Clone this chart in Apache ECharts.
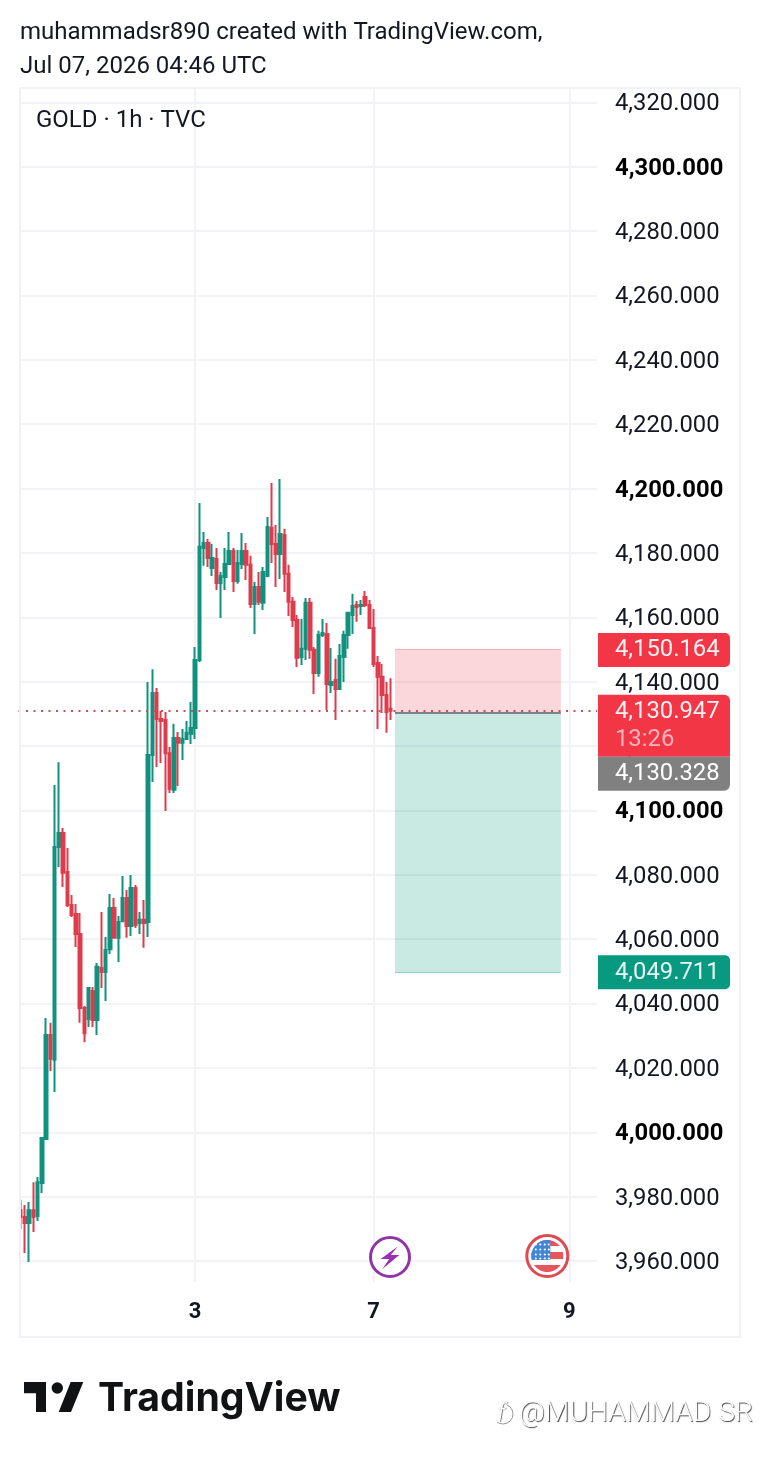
<!DOCTYPE html>
<html>
<head>
<meta charset="utf-8">
<title>GOLD 1h</title>
<style>html,body{margin:0;padding:0;background:#fff}#chart{width:760px;height:1458px}</style>
<script src="https://cdn.jsdelivr.net/npm/echarts@6/dist/echarts.min.js"></script>
</head>
<body>
<div id="chart"></div>
<script>
// Hourly GOLD candles, oldest first
const opens = [3975.8,3973.7,3971.8,3975.8,3974.0,3984.2,3997.9,4030.2,4022.5,4088.6,4093.0,4080.9,4070.6,4067.8,4061.6,4038.6,4035.2,4043.9,4034.9,4051.0,4049.8,4056.9,4069.7,4060.4,4065.6,4072.8,4064.1,4075.9,4065.0,4066.0,4065.3,4117.2,4136.5,4128.4,4128.1,4117.8,4106.4,4122.5,4121.0,4122.2,4123.8,4125.6,4146.7,4181.5,4183.1,4175.3,4178.1,4170.7,4172.5,4176.6,4180.6,4171.3,4176.6,4180.6,4176.3,4164.1,4169.4,4164.5,4172.8,4187.8,4182.8,4179.7,4185.6,4173.5,4164.8,4159.2,4147.7,4150.2,4164.5,4149.9,4142.7,4154.5,4154.8,4139.0,4140.5,4137.7,4147.7,4154.5,4160.7,4163.8,4163.5,4166.3,4163.8,4156.7,4145.8,4141.5,4135.9,4131.6];
const closes = [3973.7,3971.8,3975.8,3973.7,3984.5,3998.2,4030.2,4022.8,4088.6,4093.0,4080.6,4070.6,4067.5,4061.6,4038.6,4030.8,4044.8,4034.9,4051.4,4049.8,4056.6,4069.7,4060.4,4065.3,4072.8,4064.1,4075.9,4064.4,4066.0,4065.0,4117.2,4136.5,4128.4,4127.8,4117.8,4106.7,4122.5,4121.0,4122.2,4124.1,4125.6,4146.7,4181.9,4183.1,4178.4,4178.4,4170.7,4172.8,4176.6,4180.6,4171.3,4176.9,4180.6,4176.3,4164.1,4169.4,4164.8,4174.1,4188.1,4182.8,4179.7,4185.9,4173.5,4164.8,4159.2,4147.4,4150.2,4164.5,4149.9,4142.7,4154.5,4155.1,4139.3,4139.9,4137.7,4148.0,4154.5,4161.4,4163.5,4163.2,4163.8,4163.8,4156.7,4145.5,4141.5,4135.9,4130.6,4130.947];
const lows = [3969.9,3962.5,3959.7,3969.0,3972.4,3981.1,3997.9,4019.0,4012.5,4082.4,4076.2,4070.0,4066.9,4057.6,4034.0,4028.0,4032.7,4032.7,4030.2,4044.8,4040.8,4055.4,4060.1,4052.9,4065.6,4060.4,4061.0,4063.5,4061.6,4057.3,4060.7,4108.8,4113.5,4114.7,4099.8,4105.4,4105.4,4107.6,4115.7,4122.2,4120.6,4122.2,4146.1,4176.0,4175.6,4172.8,4168.5,4159.8,4168.5,4176.3,4167.9,4170.4,4175.0,4171.6,4162.9,4154.8,4163.8,4162.3,4172.5,4176.9,4169.4,4171.9,4167.9,4160.4,4157.0,4144.6,4145.2,4146.7,4147.1,4136.2,4141.5,4153.9,4131.2,4136.5,4128.1,4137.4,4139.9,4150.2,4154.8,4158.6,4160.7,4163.2,4156.7,4144.6,4125.3,4130.3,4124.1,4128.1];
const highs = [3979.0,3977.4,3978.3,3984.5,3986.1,3998.5,4035.5,4034.0,4107.9,4115.0,4094.5,4088.3,4073.7,4070.9,4068.1,4039.2,4045.1,4045.1,4052.6,4068.4,4060.7,4074.0,4072.8,4067.2,4079.6,4075.3,4079.9,4076.8,4068.4,4072.2,4139.9,4143.9,4138.0,4130.9,4130.6,4119.7,4126.9,4124.4,4125.3,4127.8,4133.7,4150.8,4195.5,4186.5,4184.3,4182.8,4181.5,4174.1,4181.5,4186.5,4181.5,4180.9,4186.2,4183.1,4179.1,4171.0,4174.1,4175.6,4191.2,4201.7,4188.7,4203.0,4187.5,4176.3,4166.3,4160.7,4159.5,4166.0,4166.0,4150.8,4155.8,4159.5,4158.2,4150.5,4147.1,4151.7,4155.8,4161.7,4167.3,4165.1,4165.4,4168.2,4165.4,4162.6,4148.0,4145.5,4139.9,4141.1];

// Price scale ticks; round hundreds are emphasised
const priceTicks = [3960,3980,4000,4020,4040,4060,4080,4100,4120,4140,4160,4180,4200,4220,4240,4260,4280,4300,4320];
const boldTicks = [4000,4100,4200,4300];

// Date ticks on the time scale: bar slot -> day of month
const dateTicks = {41:'3', 83:'7', 129:'9'};
const slotCount = 136;

// Short position drawing
const stopPrice = 4150.164;
const entryPrice = 4130.328;
const targetPrice = 4049.711;
const lastPrice = 4130.947;
const countdown = '13:26';
const positionStartSlot = 88;
const positionEndSlot = 127;

const UP = '#11917F', DOWN = '#DE3C4D';
const INK = '#131722';
const BRAND = '#111214';
const GRID = '#F2F3F6';
const FONT = 'Roboto';

const categories = Array.from({length: slotCount}, (_, i) => dateTicks[i] || '');
const candles = opens.map((o, i) => [o, closes[i], lows[i], highs[i]]);
const fmt = v => v.toLocaleString('en-US', {minimumFractionDigits: 3, maximumFractionDigits: 3});

const chart = echarts.init(document.getElementById('chart'));
chart.setOption({
  animation: false,
  backgroundColor: '#fff',
  grid: {left: 18.5, top: 88, width: 578.5, height: 1194},
  xAxis: {
    type: 'category',
    data: categories,
    boundaryGap: true,
    axisLine: {show: false},
    axisTick: {show: false},
    splitLine: {show: false},
    axisLabel: {
      interval: i => dateTicks[i] !== undefined,
      margin: 19,
      fontFamily: FONT, fontSize: 22, fontWeight: 'bold', color: INK
    }
  },
  yAxis: {
    type: 'value',
    position: 'right',
    min: 3953.47,
    max: 4324.47,
    axisLine: {show: false},
    axisTick: {show: false, customValues: priceTicks},
    splitLine: {show: true, lineStyle: {color: GRID, width: 2}},
    axisLabel: {
      customValues: priceTicks,
      margin: 18,
      formatter: v => (boldTicks.includes(v) ? '{b|' : '{n|') + fmt(v) + '}',
      rich: {
        n: {fontFamily: FONT, fontSize: 23.8, color: INK, padding: [4, 0, 0, 0]},
        b: {fontFamily: FONT, fontSize: 23.8, fontWeight: 'bold', color: '#000', padding: [4, 0, 0, 0]}
      }
    }
  },
  series: [
    {
      // Carries the vertical date lines underneath the candles
      type: 'line',
      z: 1,
      data: [],
      silent: true,
      markLine: {
        z: 0, silent: true, symbol: 'none', animation: false,
        label: {show: false},
        lineStyle: {color: GRID, width: 2, type: 'solid'},
        data: Object.keys(dateTicks).map(k => ({xAxis: +k}))
      }
    },
    {
      type: 'candlestick',
      z: 2,
      barWidth: 3,
      data: candles,
      itemStyle: {color: UP, color0: DOWN, borderColor: UP, borderColor0: DOWN, borderWidth: 2},
      markArea: {
        silent: true,
        data: [
          [{xAxis: positionStartSlot, yAxis: stopPrice, itemStyle: {color: 'rgba(242,54,69,0.2)'}},
           {xAxis: positionEndSlot, yAxis: entryPrice}],
          [{xAxis: positionStartSlot, yAxis: entryPrice, itemStyle: {color: 'rgba(8,153,129,0.22)'}},
           {xAxis: positionEndSlot, yAxis: targetPrice}]
        ]
      },
      markLine: {
        silent: true, symbol: 'none', animation: false,
        label: {show: false},
        data: [
          {yAxis: lastPrice, lineStyle: {color: '#C8505C', width: 2, type: [2, 5.5]}},
          [{xAxis: positionStartSlot, yAxis: entryPrice, lineStyle: {color: '#7F8288', width: 2, type: 'solid'}},
           {xAxis: positionEndSlot, yAxis: entryPrice}],
          [{xAxis: positionStartSlot, yAxis: stopPrice, lineStyle: {color: 'rgba(242,54,69,0.25)', width: 1, type: 'solid'}},
           {xAxis: positionEndSlot, yAxis: stopPrice}],
          [{xAxis: positionStartSlot, yAxis: targetPrice, lineStyle: {color: 'rgba(8,153,129,0.4)', width: 1, type: 'solid'}},
           {xAxis: positionEndSlot, yAxis: targetPrice}]
        ]
      }
    }
  ]
});

// Price tags on the scale, placed from the axis conversion
const yOf = v => chart.convertToPixel({yAxisIndex: 0}, v);
const tagText = (text, y, fill) => ({
  type: 'text', z: 102, x: 615, y,
  style: {text, fill, font: '23.8px ' + FONT, textVerticalAlign: 'middle', textAlign: 'left'}
});
const tagBox = (top, h, fill, r) => ({
  type: 'rect', z: 101,
  shape: {x: 598, y: top, width: 132, height: h, r},
  style: {fill}
});
const stopY = yOf(stopPrice), lastY = yOf(lastPrice), targetY = yOf(targetPrice);
const lastTop = lastY - 16;
const entryTop = lastTop + 62;

// Round flag badge: clip axis-aligned blocks to the disc
const discBlock = (cx, cy, r, x0, x1, y0, y1, fill) => {
  const points = [];
  for (let a = 0; a < 72; a++) {
    const t = a * Math.PI / 36;
    const px = Math.max(x0, Math.min(x1, r * Math.cos(t)));
    const py = Math.max(y0, Math.min(y1, r * Math.sin(t)));
    points.push([cx + px, cy + py]);
  }
  return {type: 'polygon', z: 51, shape: {points}, style: {fill}};
};
const flagX = 547.3, flagY = 1256;
const FLAG_RED = '#E5555A', FLAG_BLUE = '#3F86D6';
const flag = [
  {type: 'circle', z: 50, shape: {cx: flagX, cy: flagY, r: 20.5}, style: {fill: '#fff', stroke: '#DF4A52', lineWidth: 3}},
  discBlock(flagX, flagY, 16, -16, 16, -16, -10, FLAG_RED),
  discBlock(flagX, flagY, 16, -16, 16, -4, 3, FLAG_RED),
  discBlock(flagX, flagY, 16, -16, 16, 9, 16, FLAG_RED),
  discBlock(flagX, flagY, 16, -16, 3, -16, 4, FLAG_BLUE)
];
[-11, -6, -1, 3].forEach(dy => [-11, -6.5, -2, 2].forEach(dx => {
  flag.push({type: 'circle', z: 52, shape: {cx: flagX + dx - 0.5, cy: flagY + dy - 0.5, r: 1.1}, style: {fill: '#fff'}});
}));

const credit = (text, x, y, font) => ({
  type: 'text', z: 10, x, y,
  style: {
    text, fill: '#fff', font, textVerticalAlign: 'middle',
    textShadowColor: 'rgba(0,0,0,0.75)', textShadowBlur: 1, textShadowOffsetX: 0.8, textShadowOffsetY: 0.8
  }
});

chart.setOption({
  graphic: [
    // Pane edge: nothing paints left of the frame
    {type: 'rect', z: 4, silent: true, shape: {x: 0, y: 86, width: 19.5, height: 1200}, style: {fill: '#fff'}},

    // Frame round the chart
    {type: 'rect', z: 5, silent: true, shape: {x: 20, y: 88, width: 720, height: 1249},
     style: {fill: 'none', stroke: '#F0F1F4', lineWidth: 2}},

    // Heading
    {type: 'text', z: 10, x: 20, y: 33, style: {text: 'muhammadsr890 created with TradingView.com,', fill: INK, font: '24px ' + FONT, textVerticalAlign: 'middle'}},
    {type: 'text', z: 10, x: 20, y: 67, style: {text: 'Jul 07, 2026 04:46 UTC', fill: INK, font: '24px ' + FONT, textVerticalAlign: 'middle'}},
    {type: 'text', z: 10, x: 36, y: 121, style: {text: 'GOLD · 1h · TVC', fill: INK, font: '24px ' + FONT, textVerticalAlign: 'middle'}},

    // Scale tags
    tagBox(stopY - 16, 34, '#F23645', [0, 5, 5, 0]),
    tagText(fmt(stopPrice), stopY + 1, '#FFF0F1'),
    tagBox(lastTop, 62, '#F23645', [0, 6, 0, 0]),
    tagText(fmt(lastPrice), lastTop + 17, '#FFF0F1'),
    tagText(countdown, lastTop + 45, '#FBB6BC'),
    tagBox(entryTop, 34, '#808080', [0, 0, 6, 0]),
    tagText(fmt(entryPrice), entryTop + 17, '#FFFFFF'),
    tagBox(targetY - 17, 34, '#089981', [0, 5, 5, 0]),
    tagText(fmt(targetPrice), targetY + 1, '#E8F7F4'),

    // Event markers
    {type: 'circle', z: 50, shape: {cx: 390, cy: 1257, r: 19.5}, style: {fill: '#fff', stroke: '#8E36A8', lineWidth: 3}},
    {type: 'polygon', z: 51, shape: {points: [[397.7, 1246.5], [380.7, 1259], [389.2, 1259], [382.4, 1269], [399.3, 1255], [390.8, 1255]]}, style: {fill: '#9A2FB5'}},
    ...flag,

    // Brand mark and wordmark
    {type: 'polygon', z: 10, shape: {points: [[24, 1382], [46, 1382], [46, 1412], [36, 1412], [36, 1393.3], [24, 1393.3]]}, style: {fill: BRAND}},
    {type: 'circle', z: 10, shape: {cx: 57.3, cy: 1388, r: 5.7}, style: {fill: BRAND}},
    {type: 'polygon', z: 10, shape: {points: [[70.7, 1382], [83.3, 1382], [71, 1412], [58.7, 1412]]}, style: {fill: BRAND}},
    {type: 'text', z: 10, x: 98, y: 1399, style: {text: 'TradingView', fill: BRAND, font: 'bold 39.2px Inter', textVerticalAlign: 'middle'}},

    // Embossed credit
    credit('@MUHAMMAD SR', 519, 1414, '300 28.3px ' + FONT),
    credit('f', 497, 1415, 'italic 300 26px ' + FONT),
    {type: 'arc', z: 10, shape: {cx: 503, cy: 1414, r: 10, startAngle: -1.2, endAngle: 2.2}, style: {fill: 'none', stroke: '#9a9a9a', lineWidth: 1}}
  ]
});
</script>
</body>
</html>
